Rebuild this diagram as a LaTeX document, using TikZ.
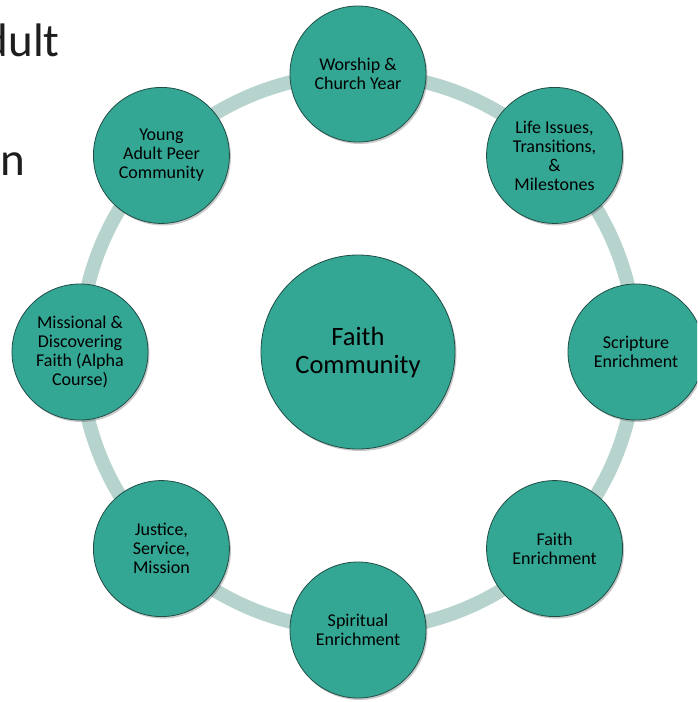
\documentclass[tikz,border=0pt]{standalone}
\usepackage{fontspec}
\setmainfont{Carlito}
\usetikzlibrary{shadows}
\definecolor{discteal}{RGB}{52,167,148}
\definecolor{discedge}{RGB}{32,78,70}
\definecolor{ringgreen}{RGB}{182,212,205}
\definecolor{slidetext}{RGB}{30,30,30}
\begin{document}
\begin{tikzpicture}[line join=round,font=\fontsize{18}{19}\selectfont]
			\tikzset{disc/.style={circle,draw=discedge,line width=.8pt,fill=discteal,
					minimum size=136pt,inner sep=0pt,align=center,text=black,
					drop shadow={shadow xshift=1.5pt,shadow yshift=-2pt,opacity=.3,fill=black!70}},
				ring/.style={draw=ringgreen,line width=14pt},
				slide/.style={inner sep=0pt,anchor=base east,text=slidetext,font=\fontsize{47}{50}\selectfont}
			}
			\useasboundingbox (-358pt,-350pt) rectangle (339pt,352pt);
			\clip (-358pt,-350pt) rectangle (339pt,352pt);
			% cut-off slide text at the left edge
			\node[slide] (adult) at (-298pt,295pt) {dult};
			\node[slide] (ln) at (-333pt,177pt) {n};
			\node[disc,minimum size=194pt,font=\fontsize{26.5}{28}\selectfont] (hub) at (0,0) {Faith\\Community};
			\draw[ring] (hub.center) circle[radius=278pt];
			\node[disc] (worship) at (90:278pt) {Worship \&\\Church Year};
			\node[disc] (life) at (45:278pt) {Life Issues,\\Transitions,\\\&\\Milestones};
			\node[disc] (scripture) at (0:278pt) {Scripture\\Enrichment};
			\node[disc] (faithenr) at (-45:278pt) {Faith\\Enrichment};
			\node[disc] (spiritual) at (-90:278pt) {Spiritual\\Enrichment};
			\node[disc] (justice) at (-135:278pt) {Justice,\\Service,\\Mission};
			\node[disc] (missional) at (180:278pt) {Missional \&\\Discovering\\Faith (Alpha\\Course)};
			\node[disc] (young) at (135:278pt) {Young\\Adult Peer\\Community};
\end{tikzpicture}
\end{document}
